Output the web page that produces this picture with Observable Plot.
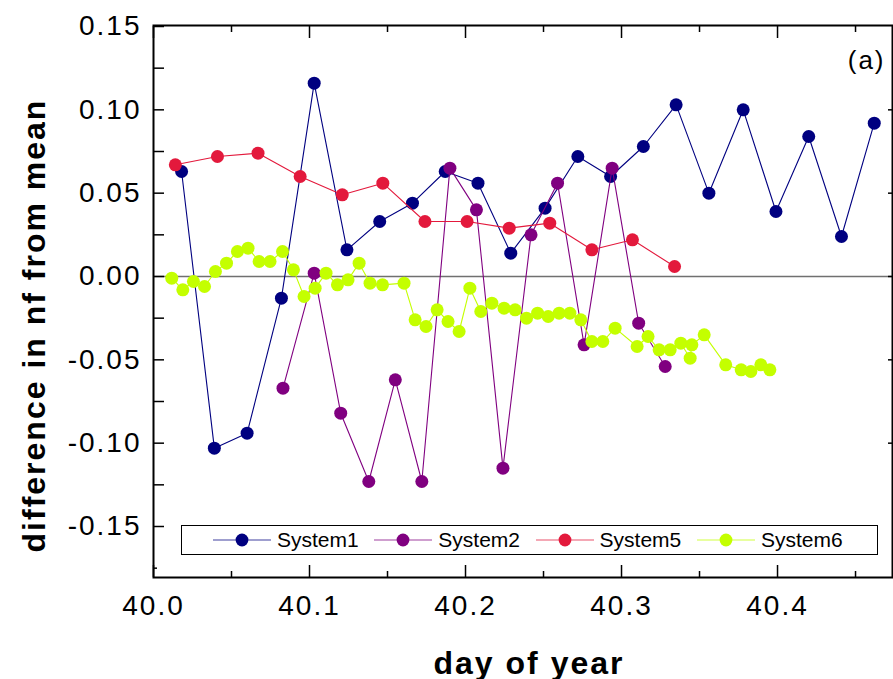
<!DOCTYPE html>
<html><head><meta charset="utf-8">
<script src="https://cdn.jsdelivr.net/npm/d3@7"></script>
<script src="https://cdn.jsdelivr.net/npm/@observablehq/plot@0.6"></script>
<style>
body{margin:0;background:#fff;font-family:"Liberation Sans",Arial,sans-serif;}
#wrap{position:relative;width:893px;height:679px;overflow:hidden;}
#legend{position:absolute;left:181px;top:525px;width:697px;height:30px;border:1.5px solid #000;background:#fff;display:flex;align-items:center;padding-left:31px;box-sizing:border-box;}
.item{display:flex;align-items:center;width:161.3px;flex:none;}
.item span{font-size:21px;margin-left:6px;color:#000;}
</style></head><body><div id="wrap"></div>
<script>
const seriesNames = ["System1","System2","System5","System6"];
const seriesColors = ["#000080","#800080","#E3193C","#C4FF00"];

const s1x = [40.018,40.039,40.060,40.082,40.103,40.124,40.145,40.166,40.187,40.208,40.229,40.251,40.272,40.293,40.314,40.335,40.356,40.378,40.399,40.420,40.441,40.462];
const s1y = [0.063,-0.103,-0.094,-0.013,0.116,0.016,0.033,0.044,0.063,0.056,0.014,0.041,0.072,0.060,0.078,0.103,0.050,0.100,0.039,0.084,0.024,0.092];

const s2x = [40.083,40.103,40.120,40.138,40.155,40.172,40.190,40.207,40.224,40.242,40.259,40.276,40.294,40.311,40.328];
const s2y = [-0.067,0.002,-0.082,-0.123,-0.062,-0.123,0.065,0.040,-0.115,0.025,0.056,-0.041,0.065,-0.028,-0.054];

const s5x = [40.014,40.041,40.067,40.094,40.121,40.147,40.174,40.201,40.228,40.254,40.281,40.307,40.334];
const s5y = [0.067,0.072,0.074,0.060,0.049,0.056,0.033,0.033,0.029,0.032,0.016,0.022,0.006];

const s6x = [40.0117,40.0188,40.0256,40.0327,40.0397,40.0468,40.0538,40.0606,40.0677,40.0747,40.0827,40.0897,40.0965,40.1036,40.1106,40.1179,40.1247,40.1318,40.1388,40.1468,40.1606,40.1677,40.1747,40.1818,40.1888,40.1959,40.2028,40.2098,40.2169,40.2247,40.2318,40.2391,40.2462,40.2530,40.2600,40.2669,40.2739,40.2810,40.2880,40.2959,40.3100,40.3170,40.3241,40.3312,40.3380,40.3440,40.3451,40.3530,40.3668,40.3767,40.3829,40.3893,40.3951];
const s6y = [-0.001,-0.008,-0.003,-0.006,0.003,0.008,0.015,0.017,0.009,0.009,0.015,0.004,-0.012,-0.007,0.002,-0.005,-0.002,0.008,-0.004,-0.005,-0.004,-0.026,-0.030,-0.020,-0.027,-0.033,-0.007,-0.021,-0.016,-0.019,-0.020,-0.025,-0.022,-0.024,-0.022,-0.022,-0.026,-0.039,-0.039,-0.031,-0.042,-0.036,-0.044,-0.044,-0.040,-0.049,-0.041,-0.035,-0.053,-0.056,-0.057,-0.053,-0.056];

const xMajorTicks = [40.0,40.1,40.2,40.3,40.4];
const xMinorTicks = [40.05,40.15,40.25,40.35,40.45];
const yLabelTicks = [-0.15,-0.10,-0.05,0.00,0.05,0.10,0.15];
const yLeftTicks = [-0.15,-0.125,-0.10,-0.075,-0.05,-0.025,0,0.025,0.05,0.075,0.10,0.125,0.15];
const yLeftMinor = [-0.175];

const xs = [s1x,s2x,s5x,s6x], ys = [s1y,s2y,s5y,s6y];
const seriesData = seriesNames.map((name,i)=> xs[i].map((x,j)=>({x, y: ys[i][j], name})));

const FONT = '"Liberation Sans", Arial, sans-serif';
const marks = [Plot.ruleY([0], {stroke:"#707070", strokeWidth:1.6})];
seriesData.forEach((d,i)=>{
  marks.push(Plot.line(d, {x:"x", y:"y", stroke: seriesColors[i], strokeWidth:1.1}));
  marks.push(Plot.dot(d, {x:"x", y:"y", r:6.5, fill: seriesColors[i], stroke:"none"}));
});
marks.push(
  Plot.frame({stroke:"#000", strokeWidth:2}),
  Plot.axisX({ticks:xMajorTicks, anchor:"bottom", tickSize:-12, tickFormat:()=>"", label:null, strokeWidth:1.5}),
  Plot.axisX({ticks:xMinorTicks, anchor:"bottom", tickSize:-6, tickFormat:()=>"", label:null, strokeWidth:1.5}),
  Plot.axisX({ticks:xMajorTicks, anchor:"top", tickSize:-12, tickFormat:()=>"", label:null, strokeWidth:1.5}),
  Plot.axisX({ticks:xMinorTicks, anchor:"top", tickSize:-6, tickFormat:()=>"", label:null, strokeWidth:1.5}),
  Plot.axisY({ticks:yLeftTicks, anchor:"left", tickSize:-11, tickFormat:()=>"", label:null, strokeWidth:1.5}),
  Plot.axisY({ticks:yLeftMinor, anchor:"left", tickSize:-4, tickFormat:()=>"", label:null, strokeWidth:1.5}),
  Plot.axisY({ticks:yLabelTicks.slice(1,6), anchor:"right", tickSize:-5, tickFormat:()=>"", label:null, strokeWidth:1.5}),
  Plot.axisX({ticks:xMajorTicks, anchor:"bottom", tickSize:0, tickPadding:18, tickFormat:d=>d.toFixed(1), fontSize:28, label:null}),
  Plot.axisY({ticks:yLabelTicks, anchor:"left", tickSize:0, tickPadding:12, tickFormat:d=>d.toFixed(2), fontSize:28, label:null}),
  Plot.text(["difference in nf from mean"], {frameAnchor:"left", textAnchor:"middle", dx:-119, dy:24, rotate:-90, fontSize:32, fontWeight:"bold"}),
  Plot.text(["day of year"], {frameAnchor:"bottom", textAnchor:"middle", dx:6, dy:86, fontSize:32, fontWeight:"bold", lineAnchor:"middle"}),
  Plot.text(["(a)"], {frameAnchor:"top-right", dx:-7, dy:35, fontSize:26, textAnchor:"end", lineAnchor:"middle"})
);

const chart = Plot.plot({
  width: 893, height: 679,
  marginLeft: 153, marginRight: 1, marginTop: 25, marginBottom: 102,
  style: {fontFamily: FONT, background: "#fff", color: "#000", letterSpacing: "2px"},
  x: {domain: [40.0, 40.4737]},
  y: {domain: [-0.1806, 0.1506]},
  marks
});
const wrap = document.getElementById("wrap");
wrap.appendChild(chart);

const legend = document.createElement("div");
legend.id = "legend";
seriesNames.forEach((name,i)=>{
  const item = document.createElement("div");
  item.className = "item";
  item.innerHTML = `<svg width="58" height="20"><line x1="0" x2="58" y1="10" y2="10" stroke="${seriesColors[i]}" stroke-width="1.1" opacity="0.75"/><circle cx="29" cy="10" r="6.4" fill="${seriesColors[i]}"/></svg><span>${name}</span>`;
  legend.appendChild(item);
});
wrap.appendChild(legend);
</script>
</body></html>
